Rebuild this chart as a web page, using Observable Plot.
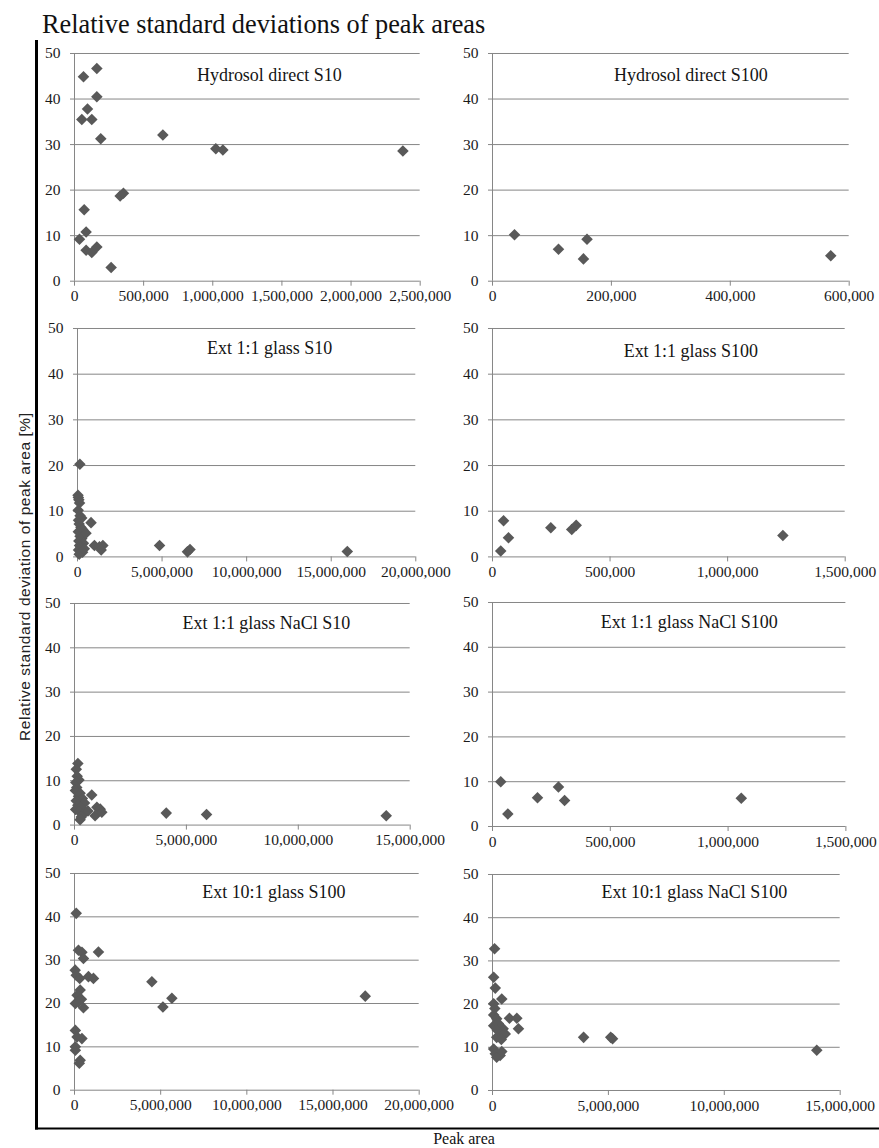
<!DOCTYPE html>
<html><head><meta charset="utf-8">
<script src="https://cdn.jsdelivr.net/npm/d3@7"></script>
<script src="https://cdn.jsdelivr.net/npm/@observablehq/plot@0.6"></script>
<style>
html,body{margin:0;padding:0;background:#fff;}
#root{position:relative;width:879px;height:1148px;overflow:hidden;background:#fff;}
#root svg{position:absolute;}
</style></head><body><div id="root"></div>
<script>
// ---------- data ----------
const chartTitle = "Relative standard deviations of peak areas";
const yLabel = "Relative standard deviation of peak area [%]";
const xLabel = "Peak area";
const panelTitles = ["Hydrosol direct S10","Hydrosol direct S100","Ext 1:1 glass S10","Ext 1:1 glass S100",
  "Ext 1:1 glass NaCl S10","Ext 1:1 glass NaCl S100","Ext 10:1 glass S100","Ext 10:1 glass NaCl S100"];
const yTicks = [0,10,20,30,40,50];
const xTicks2_5M = [0,500000,1000000,1500000,2000000,2500000];
const xTicks600k = [0,200000,400000,600000];
const xTicks20M = [0,5000000,10000000,15000000,20000000];
const xTicks1_5M = [0,500000,1000000,1500000];
const xTicks15M = [0,5000000,10000000,15000000];

const hydrosolDirectS10 = [[161500,46.7],[65000,44.9],[161500,40.5],[94000,37.8],[53000,35.5],[125000,35.5],[190000,31.3],
  [639000,32.1],[1022000,29.1],[1073000,28.8],[2375000,28.6],[330000,18.7],[354000,19.3],[70000,15.7],[84000,10.8],
  [36000,9.2],[84000,6.8],[125000,6.3],[161500,7.5],[265000,3.0]];
const hydrosolDirectS100 = [[37000,10.2],[111000,7.0],[153000,4.9],[159000,9.2],[569000,5.6]];
const ext11GlassS10 = [[140000,20.3],[30000,13.5],[50000,13],[80000,12.5],[120000,11.8],[40000,10.2],[150000,9],[60000,8],
  [250000,8.5],[100000,7.2],[200000,6.5],[300000,6],[50000,5.5],[400000,5],[150000,4.5],[250000,4],[80000,3.5],[350000,3],
  [120000,2.5],[200000,2],[60000,1.5],[300000,1],[100000,0.6],[400000,1.8],[800000,7.5],[500000,5.2],[1000000,2.5],
  [1300000,2.2],[1500000,2.5],[1400000,1.5],[4850000,2.5],[6500000,1.1],[6650000,1.6],[15950000,1.2]];
const ext11GlassS100 = [[47000,7.9],[68000,4.2],[35000,1.3],[248000,6.4],[337000,6.0],[356000,6.9],[1235000,4.7]];
const ext11GlassNaClS10 = [[150000,13.9],[80000,12.6],[120000,11],[200000,10.2],[60000,9.6],[100000,8.5],[40000,7.8],
  [250000,7.2],[180000,6.5],[350000,6],[80000,5.5],[450000,5],[150000,4.5],[300000,4],[50000,3.5],[220000,3],[400000,2.5],
  [300000,1.8],[250000,1.2],[600000,3.2],[770000,6.8],[1000000,4.0],[1150000,3.6],[920000,2.1],[1220000,2.9],
  [4100000,2.7],[5900000,2.4],[13930000,2.1]];
const ext11GlassNaClS100 = [[35000,10.0],[65000,2.8],[191000,6.4],[280000,8.8],[306000,5.8],[1056000,6.3]];
const ext101GlassS100 = [[100000,40.8],[230000,32.3],[430000,31.8],[520000,30.4],[1390000,31.9],[40000,27.7],[100000,26.5],
  [300000,25.8],[810000,26.2],[1100000,25.8],[4490000,25.0],[330000,23.1],[150000,21.9],[230000,20.4],[520000,19.0],
  [50000,20.0],[400000,21.0],[5130000,19.2],[5650000,21.2],[16870000,21.7],[50000,13.8],[150000,12.3],[430000,11.9],
  [50000,10.0],[50000,9.2],[330000,6.9],[280000,6.2]];
const ext101GlassNaClS100 = [[90000,32.8],[50000,26.2],[120000,23.7],[50000,20.1],[400000,21.2],[50000,17.5],[180000,16.6],
  [50000,15.0],[730000,16.7],[1050000,16.7],[1120000,14.3],[460000,14.3],[330000,12.7],[180000,12.3],[550000,13.1],
  [3930000,12.3],[5180000,12.0],[5100000,12.3],[13990000,9.3],[50000,9.6],[120000,8.5],[330000,8.1],[180000,7.7],
  [400000,9.0],[250000,15.5],[200000,14],[380000,11.8],[100000,19]];

const panelData = [hydrosolDirectS10, hydrosolDirectS100, ext11GlassS10, ext11GlassS100,
  ext11GlassNaClS10, ext11GlassNaClS100, ext101GlassS100, ext101GlassNaClS100];
const panelTicks = [xTicks2_5M, xTicks600k, xTicks20M, xTicks1_5M, xTicks15M, xTicks1_5M, xTicks20M, xTicks15M];

// ---------- layout (page pixels of each plot frame) ----------
const layout = [
  {l:74.3, r:420, t:53.3, b:281, dx:22, dy:22},
  {l:492.3, r:849, t:53.3, b:281, dx:20, dy:22},
  {l:76.7, r:415, t:328.3, b:556.7, dx:23, dy:20},
  {l:492.3, r:845, t:328.3, b:556.7, dx:22, dy:23},
  {l:74.3, r:410, t:602.7, b:824.3, dx:24, dy:20},
  {l:492.3, r:845.7, t:601.7, b:825.7, dx:20, dy:20},
  {l:74.3, r:419, t:873.3, b:1090, dx:27, dy:18.5},
  {l:492.3, r:840, t:874, b:1090, dx:28, dy:18}
];

const root = document.getElementById("root");
const SERIF = "'Liberation Serif','Times New Roman',serif";
const GRID = "#868686";

panelData.forEach((data, i) => {
  const L = layout[i];
  const xt = panelTicks[i];
  const mL = 45, mR = 45, mT = 10, mB = 32;
  const pts = data.map(([x, y]) => ({x, y}));
  const svg = Plot.plot({
    width: (L.r - L.l) + mL + mR,
    height: (L.b - L.t) + mT + mB,
    marginLeft: mL, marginRight: mR, marginTop: mT, marginBottom: mB,
    style: {background: "transparent", fontFamily: SERIF, fontSize: "15px", color: "#1e1e1e", overflow: "visible"},
    x: {domain: [0, xt[xt.length - 1]], label: null},
    y: {domain: [0, 50], label: null},
    marks: [
      Plot.ruleY(yTicks, {stroke: GRID, strokeWidth: 1}),
      Plot.ruleX([0], {stroke: GRID, strokeWidth: 1}),
      Plot.axisY(yTicks, {tickSize: 4, tickPadding: 10, stroke: GRID, fill: "#1a1a1a", fontSize: 15.5, label: null,
        fontFamily: SERIF}),
      Plot.axisX(xt, {tickSize: 5, tickPadding: 4, stroke: GRID, fill: "#1a1a1a", fontSize: 15.5,
        tickFormat: d3.format(","), label: null, fontFamily: SERIF}),
      Plot.dot(pts, {x: "x", y: "y", symbol: "diamond2", r: 5.2, fill: "#595959", stroke: null}),
      Plot.text([panelTitles[i]], {frameAnchor: "top", dx: L.dx, dy: L.dy, lineAnchor: "middle",
        fontSize: 18, fill: "#151515", fontFamily: SERIF})
    ]
  });
  svg.style.left = (L.l - mL) + "px";
  svg.style.top = (L.t - mT) + "px";
  root.appendChild(svg);
});

// ---------- overlay: title, axis labels, frame lines ----------
const ov = d3.select(root).append("svg")
  .attr("width", 879).attr("height", 1148)
  .style("left", "0px").style("top", "0px").style("pointer-events", "none");
ov.append("line").attr("x1", 36.5).attr("x2", 36.5).attr("y1", 40).attr("y2", 1129.5)
  .attr("stroke", "#000").attr("stroke-width", 3);
ov.append("line").attr("x1", 35).attr("x2", 879).attr("y1", 1128.5).attr("y2", 1128.5)
  .attr("stroke", "#000").attr("stroke-width", 2);
ov.append("text").attr("x", 42).attr("y", 33).text(chartTitle)
  .attr("font-family", SERIF).attr("font-size", 26.3).attr("fill", "#111");
ov.append("text").attr("transform", "translate(30,577) rotate(-90)").attr("text-anchor", "middle")
  .attr("textLength", 328).attr("lengthAdjust", "spacing")
  .text(yLabel).attr("font-family", "'Liberation Sans',Arial,sans-serif").attr("font-size", 15.5).attr("fill", "#222");
ov.append("text").attr("x", 464).attr("y", 1144).attr("text-anchor", "middle").text(xLabel)
  .attr("font-family", SERIF).attr("font-size", 16).attr("fill", "#111");
</script></body></html>
